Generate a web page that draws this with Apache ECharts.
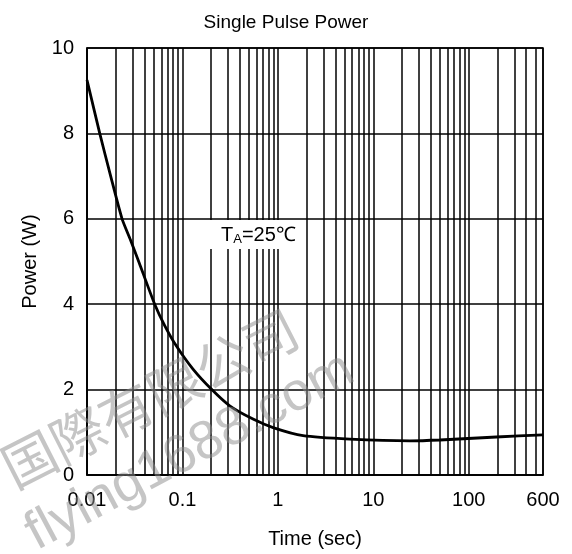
<!DOCTYPE html>
<html>
<head>
<meta charset="utf-8">
<script src="https://cdn.jsdelivr.net/npm/echarts@6/dist/echarts.min.js"></script>
<style>
  html, body { margin: 0; padding: 0; background: #fff; }
  #chart { width: 572px; height: 554px; }
</style>
</head>
<body>
<div id="chart"></div>
<script>
    // time (sec) and single pulse power (W)
    var times = [0.01, 0.0136, 0.0177, 0.0233, 0.0285, 0.0352, 0.0512, 0.0652, 0.0865, 0.129, 0.203, 0.313, 0.549, 0.891, 1.84, 5.67, 24.2, 49.8, 195, 600];
    var power = [9.25, 8.0, 7.0, 6.0, 5.51, 4.97, 4.0, 3.5, 3.02, 2.48, 2.0, 1.62, 1.31, 1.11, 0.92, 0.84, 0.80, 0.82, 0.89, 0.94];

    // minor vertical grid lines (log decades)
    var minorGrid = [0.02, 0.03, 0.04, 0.05, 0.06, 0.07, 0.08, 0.09,
        0.2, 0.3, 0.4, 0.5, 0.6, 0.7, 0.8, 0.9,
        2, 3, 4, 5, 6, 7, 8, 9,
        20, 30, 40, 50, 60, 70, 80, 90,
        200, 300, 400, 500];

    var xTickLabels = {'0.01': '0.01', '0.1': '0.1', '1': '1', '10': '10', '100': '100', '600': '600'};

    var font = 'Liberation Sans, Arial, sans-serif';

    var chart = echarts.init(document.getElementById('chart'));

    var curveData = [];
    for (var i = 0; i < times.length; i++) {
        curveData.push([times[i], power[i]]);
    }

    var option = {
        animation: false,
        backgroundColor: '#fff',
        title: {
            text: 'Single Pulse Power',
            left: 'center',
            top: 8,
            textStyle: {fontFamily: font, fontSize: 19, fontWeight: 'normal', color: '#000'}
        },
        grid: {
            left: 87,
            right: 29,
            top: 48,
            bottom: 78,
            show: true,
            borderColor: '#000',
            borderWidth: 1.5
        },
        xAxis: {
            type: 'log',
            logBase: 10,
            min: 0.01,
            max: 600,
            name: 'Time (sec)',
            nameLocation: 'middle',
            nameGap: 54,
            nameTextStyle: {fontFamily: font, fontSize: 20, color: '#000'},
            axisLine: {lineStyle: {color: '#000', width: 1.5}},
            axisTick: {show: false},
            axisLabel: {
                fontFamily: font, fontSize: 20, color: '#000', margin: 15,
                showMinLabel: true, showMaxLabel: true,
                formatter: function (v) {
                    var key = String(Math.round(v * 1000) / 1000);
                    return xTickLabels[key] !== undefined ? xTickLabels[key] : '';
                }
            },
            splitLine: {show: true, lineStyle: {color: '#000', width: 1.5}}
        },
        yAxis: {
            type: 'value',
            min: 0,
            max: 10,
            interval: 2,
            name: 'Power (W)',
            nameLocation: 'middle',
            nameGap: 42,
            nameTextStyle: {fontFamily: font, fontSize: 20, color: '#000'},
            axisLine: {show: true, lineStyle: {color: '#000', width: 1.5}},
            axisTick: {show: false},
            axisLabel: {fontFamily: font, fontSize: 20, color: '#000', margin: 13},
            splitLine: {show: true, lineStyle: {color: '#000', width: 1.5}}
        },
        series: [
            {
                name: 'grid',
                type: 'line',
                data: [],
                z: 1,
                silent: true,
                markLine: {
                    silent: true,
                    symbol: 'none',
                    label: {show: false},
                    lineStyle: {color: '#000', width: 1.5, type: 'solid'},
                    data: minorGrid.map(function (v) { return {xAxis: v}; })
                }
            },
            {
                name: 'Power',
                type: 'line',
                z: 3,
                smooth: 0.2,
                showSymbol: false,
                lineStyle: {color: '#000', width: 2.8},
                data: curveData
            }
        ],
        graphic: [
            {
                type: 'rect',
                z: 100,
                shape: {x: 205, y: 220, width: 98, height: 29},
                style: {fill: '#fff'}
            },
            {
                type: 'text',
                z: 101,
                x: 221,
                y: 235,
                style: {
                    text: '{t|T}{s|A}{t|=25℃}',
                    verticalAlign: 'middle',
                    rich: {
                        t: {fontFamily: font, fontSize: 20, fill: '#000'},
                        s: {fontFamily: font, fontSize: 13, fill: '#000', verticalAlign: 'bottom', padding: [9, 0, 0, 0]}
                    }
                }
            },
            {
                type: 'text',
                z: 110,
                x: 150,
                y: 398,
                rotation: 0.47,
                style: {
                    text: '国際有限公司',
                    align: 'center',
                    verticalAlign: 'middle',
                    font: '54px "Noto Sans CJK SC"',
                    fill: 'rgba(140,140,140,0.5)'
                }
            },
            {
                type: 'text',
                z: 110,
                x: 190,
                y: 452,
                rotation: 0.49,
                style: {
                    text: 'flying1688.com',
                    align: 'center',
                    verticalAlign: 'middle',
                    font: '54px "Liberation Sans"',
                    fill: 'rgba(140,140,140,0.5)'
                }
            }
        ]
    };

    chart.setOption(option);
</script>
</body>
</html>
